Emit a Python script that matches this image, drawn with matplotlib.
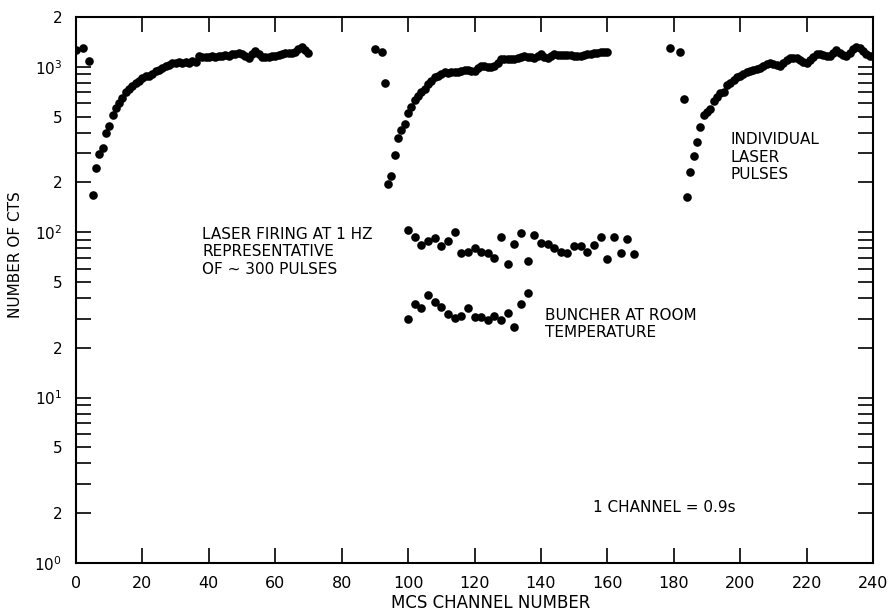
"""
MCS counts per channel for individual laser pulses vs. 1 Hz laser firing / room temperature buncher.
"""
import matplotlib
matplotlib.use('Agg')
import matplotlib.pyplot as plt
from matplotlib.ticker import FixedLocator, FixedFormatter, NullLocator

# individual laser pulses (three recovery curves)
pulse_ch = ([0, 2, 4] + list(range(5, 71))
            + [90, 92] + list(range(93, 161))
            + [179, 182] + list(range(183, 241)))
pulse_cts = [1260, 1290, 1086,
             167, 243, 295, 321, 398, 440, 510, 560, 600, 650,
             700, 730, 770, 800, 825, 850, 880, 880, 910, 940,
             960, 980, 1010, 1030, 1050, 1060, 1070, 1060, 1070, 1060,
             1080, 1070, 1160, 1150, 1140, 1150, 1160, 1150, 1160, 1170,
             1180, 1170, 1190, 1200, 1210, 1190, 1160, 1136, 1190, 1245,
             1190, 1147, 1150, 1150, 1160, 1170, 1180, 1200, 1213, 1210,
             1220, 1224, 1280, 1320, 1260, 1213,
             1275, 1233,
             800, 196, 220, 291, 371, 416, 452, 522, 573, 628,
             670, 703, 736, 790, 825, 864, 880, 900, 924, 920,
             930, 924, 935, 945, 955, 950, 945, 940, 980, 1014,
             1010, 1000, 1000, 1010, 1060, 1111, 1110, 1115, 1110, 1120,
             1130, 1150, 1163, 1150, 1140, 1136, 1170, 1190, 1150, 1136,
             1170, 1190, 1185, 1180, 1180, 1175, 1180, 1170, 1165, 1163,
             1180, 1190, 1200, 1213, 1220, 1225, 1230, 1233,
             1291, 1233,
             637, 163, 232, 288, 349, 435, 510, 530, 559, 620,
             657, 690, 703, 771, 800, 830, 864, 880, 900, 924,
             940, 960, 975, 990, 1010, 1040, 1061, 1040, 1020, 1014,
             1060, 1100, 1126, 1130, 1136, 1100, 1070, 1061, 1100, 1150,
             1190, 1200, 1180, 1170, 1163, 1210, 1257, 1220, 1180, 1163,
             1220, 1280, 1316, 1290, 1240, 1200, 1170, 1163]

# laser firing at 1 Hz
hz_ch = list(range(100, 169, 2))
hz_cts = [103, 94, 84, 88, 92, 82, 89, 100, 75, 76,
          80, 76, 75, 70, 93, 64, 85, 99, 67, 96,
          86, 85, 80, 76, 75, 82, 83, 76, 84, 94,
          69, 94, 75, 91, 74]

# buncher at room temperature
room_ch = list(range(100, 137, 2))
room_cts = [30, 37, 35, 42, 38, 35.5, 32, 30.4, 31.3, 35,
            30.8, 30.8, 29.4, 31.3, 29.4, 32.3, 26.8, 37, 43]

y_ticks = [1, 2, 5, 10, 20, 50, 100, 200, 500, 1000, 2000]
y_labels = ['$10^0$', '2', '5', '$10^1$', '2', '5', '$10^2$', '2', '5', '$10^3$', '2']
y_minor = [3, 4, 6, 7, 8, 9, 30, 40, 60, 70, 80, 90, 300, 400, 600, 700, 800, 900]


def make_chart(output_path='out.png'):
    fig = plt.figure(figsize=(8.91, 6.14), dpi=100)
    ax = fig.add_axes([76 / 891, 51 / 614, 797 / 891, 546 / 614])

    kw = dict(marker='o', linestyle='none', color='black', markersize=6.2, markeredgewidth=0)
    ax.plot(pulse_ch, pulse_cts, **kw)
    ax.plot(hz_ch, hz_cts, **kw)
    ax.plot(room_ch, room_cts, **kw)

    ax.set_yscale('log')
    ax.set_xlim(0, 240)
    ax.set_ylim(1, 2000)

    ax.set_xticks(range(0, 241, 20))
    ax.yaxis.set_major_locator(FixedLocator(y_ticks))
    ax.yaxis.set_major_formatter(FixedFormatter(y_labels))
    ax.yaxis.set_minor_locator(FixedLocator(y_minor))
    ax.xaxis.set_minor_locator(NullLocator())

    ax.tick_params(which='both', direction='in', top=True, right=True,
                   length=11, width=1.2)
    ax.tick_params(axis='y', pad=10, labelsize=11)
    ax.tick_params(axis='x', pad=9, labelsize=11.5)
    for s in ax.spines.values():
        s.set_linewidth(1.5)

    ax.set_xlabel('MCS CHANNEL NUMBER', fontsize=12)
    ax.xaxis.set_label_coords(0.52, -0.057)
    ax.set_ylabel('NUMBER OF CTS', fontsize=11)
    ax.yaxis.set_label_coords(-0.066, 0.564)

    txt_kw = dict(fontsize=11, va='center', linespacing=1.2)
    fig.text(202 / 891, 1 - 252 / 614, 'LASER FIRING AT 1 HZ\nREPRESENTATIVE\nOF ~ 300 PULSES', **txt_kw)
    fig.text(545 / 891, 1 - 324 / 614, 'BUNCHER AT ROOM\nTEMPERATURE', **txt_kw)
    fig.text(731 / 891, 1 - 157 / 614, 'INDIVIDUAL\nLASER\nPULSES', **txt_kw)
    fig.text(593 / 891, 1 - 507 / 614, '1 CHANNEL = 0.9s', **txt_kw)

    fig.savefig(output_path, dpi=100, facecolor='white')
    plt.close(fig)
    return output_path


if __name__ == "__main__":
    make_chart()
